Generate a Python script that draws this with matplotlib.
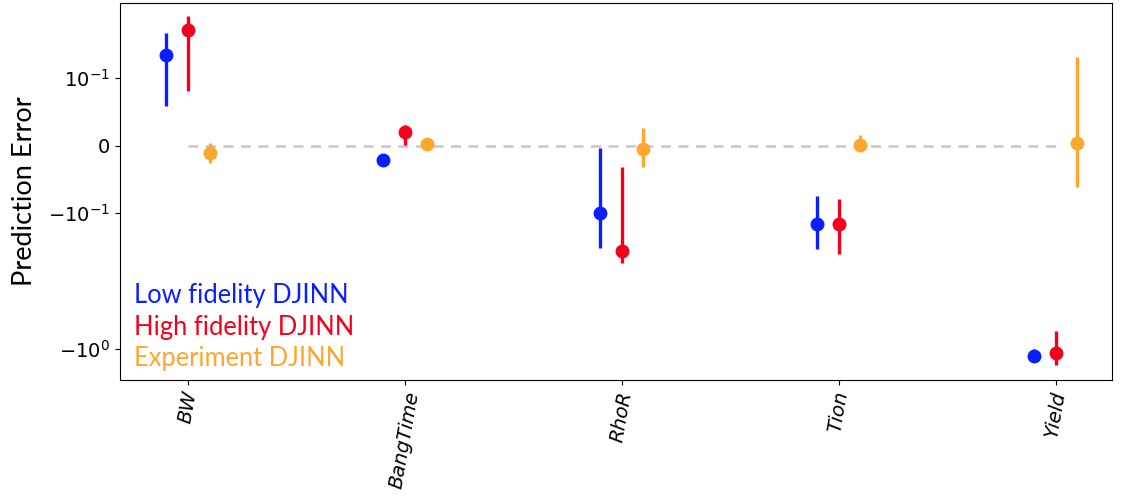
import matplotlib
matplotlib.use("Agg")
import matplotlib.pyplot as plt
import numpy as np

categories = ["BW", "BangTime", "RhoR", "Tion", "Yield"]
series_names = ["Low fidelity DJINN", "High fidelity DJINN", "Experiment DJINN"]
colors = ["#0a1eff", "#f5001c", "#ffa62e"]

low_mean = [0.148, -0.021, -0.100, -0.119, -1.13]
low_lo = [0.058, -0.025, -0.180, -0.182, -1.24]
low_hi = [0.213, -0.017, -0.003, -0.075, -1.01]

high_mean = [0.224, 0.0194, -0.189, -0.119, -1.07]
high_lo = [0.081, 0.0015, -0.232, -0.199, -1.316]
high_hi = [0.285, 0.030, -0.031, -0.079, -0.734]

exp_mean = [-0.0104, 0.003, -0.0045, 0.0015, 0.0045]
exp_lo = [-0.0254, -0.002, -0.031, -0.0075, -0.061]
exp_hi = [0.0045, 0.006, 0.0254, 0.015, 0.1435]

means = [low_mean, high_mean, exp_mean]
los = [low_lo, high_lo, exp_lo]
his = [low_hi, high_hi, exp_hi]
offsets = [-0.1, 0.0, 0.1]

fig = plt.figure(figsize=(11.25, 5), dpi=100)
ax = fig.add_axes([0.1067, 0.24, 0.8813, 0.754])
ax.set_yscale("symlog", linthresh=0.1, linscale=0.45)

x = np.arange(len(categories))
ax.plot([x[0], x[-1]], [0, 0], ls=(0, (4, 3)), color="#c8c8c8", lw=1.8, zorder=1)

for m, lo, hi, off, c in zip(means, los, his, offsets, colors):
    xs = x + off
    ax.vlines(xs, lo, hi, color=c, lw=2.4, zorder=2)
    ax.plot(xs, m, "o", color=c, ms=9, ls="none", zorder=3)

ax.set_xlim(-0.313, 4.258)
ax.set_ylim(-1.70, 0.357)
ax.set_yticks([0.1, 0, -0.1, -1])
ax.set_yticklabels([r"$10^{-1}$", r"$0$", r"$-10^{-1}$", r"$-10^{0}$"])
ax.yaxis.set_minor_locator(matplotlib.ticker.NullLocator())
ax.tick_params(axis="y", labelsize=14)
ax.set_xticks(x)
ax.set_xticklabels(categories, rotation=80, fontstyle="italic", fontsize=14)
ax.set_ylabel("Prediction Error", fontsize=19.5, family="Lato", labelpad=8)

for i, (name, c) in enumerate(zip(series_names, colors)):
    ax.text(0.014, 0.223 - i * 0.083, name, color=c, fontsize=18.4, family="Lato",
            transform=ax.transAxes, va="center", ha="left")

fig.savefig("out.png", dpi=100)
